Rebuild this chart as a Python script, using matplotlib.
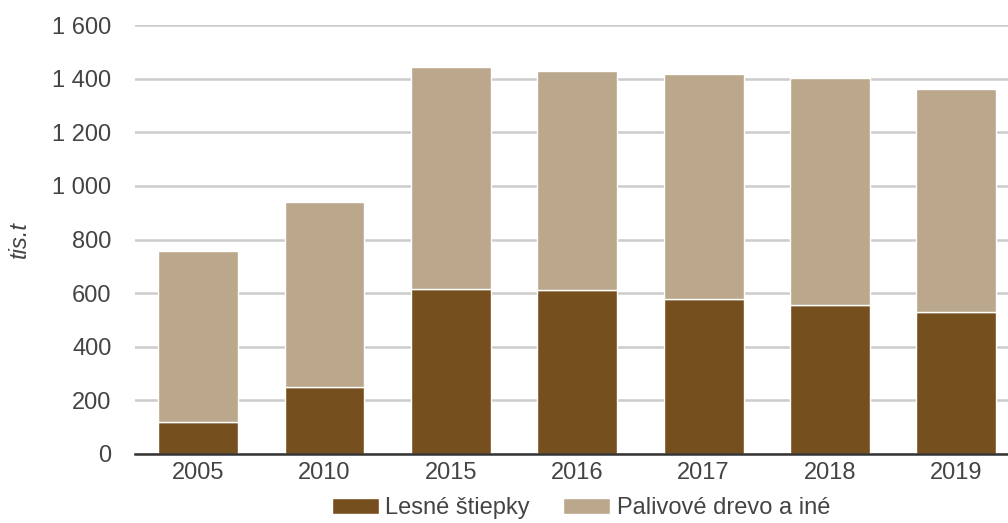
import numpy as np
import matplotlib.pyplot as plt
import matplotlib.ticker as ticker

#--------- data ---------
years = ['2005', '2010', '2015', '2016', '2017', '2018', '2019']
lesne_stiepky = [121, 249, 614, 613, 577, 557, 529]
total = [756, 938, 1445, 1430, 1418, 1404, 1363]
palivove_drevo = [t - l for t, l in zip(total, lesne_stiepky)]

#--------- style ---------
C_DARK = '#764f1f'
C_LIGHT = '#bba78c'
C_TEXT = '#444444'
FS = 17

plt.rcParams['font.family'] = ['Liberation Sans', 'DejaVu Sans']
plt.rcParams['font.size'] = FS

fig = plt.figure(figsize=(10.08, 5.23), dpi=100)
ax = fig.add_axes([135/1008, 69/523, 1 - 135/1008, (454 - 25)/523])

x = np.arange(len(years))
w = 0.633
ax.bar(x, lesne_stiepky, w, color=C_DARK, edgecolor='white', linewidth=1,
       label='Lesné štiepky', zorder=2)
ax.bar(x, palivove_drevo, w, bottom=lesne_stiepky, color=C_LIGHT,
       edgecolor='white', linewidth=1, label='Palivové drevo a iné', zorder=2)

ax.set_xlim(-0.5, 6.41)
ax.set_ylim(0, 1600)
ax.yaxis.set_major_locator(ticker.MultipleLocator(200))
ax.yaxis.set_major_formatter(ticker.FuncFormatter(lambda v, p: f'{int(v):,}'.replace(',', ' ')))
ax.set_xticks(x)
ax.set_xticklabels(years)

ax.grid(axis='y', color='#cccccc', linewidth=1.8, zorder=0)
ax.set_axisbelow(True)
for s in ['top', 'right', 'left']:
    ax.spines[s].set_visible(False)
ax.spines['bottom'].set_color('#333333')
ax.spines['bottom'].set_linewidth(1.8)
ax.spines['bottom'].set_zorder(5)

ax.tick_params(axis='y', length=0, pad=17, colors=C_TEXT, labelsize=FS)
ax.tick_params(axis='x', length=0, pad=6, colors=C_TEXT, labelsize=FS)
ax.set_ylabel('tis.t', style='italic', color=C_TEXT, fontsize=FS, labelpad=15)

ax.legend(loc='center', bbox_to_anchor=(581/1008, 1 - 508/523),
          bbox_transform=fig.transFigure, ncol=2, frameon=False,
          handlelength=2.0, handleheight=0.68, handletextpad=0.28,
          columnspacing=1.4, borderpad=0, labelcolor=C_TEXT, fontsize=FS)

fig.savefig('out.png', dpi=100)
